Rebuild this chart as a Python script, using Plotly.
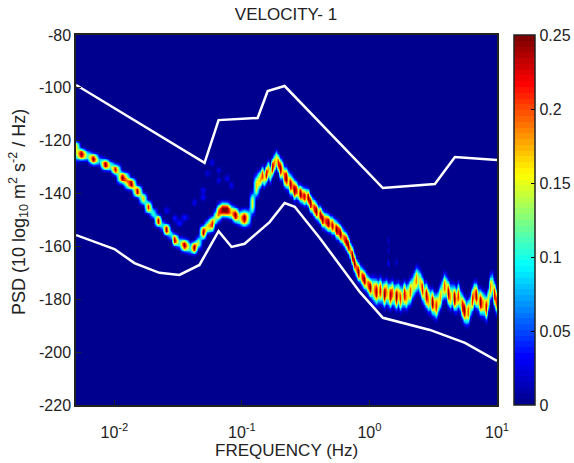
import numpy as np
import plotly.graph_objects as go

# White noise-model curves (log10 frequency, dB)
upper_logf = [-2.30, -1.293, -1.183, -0.877, -0.798, -0.665, 0.105, 0.513, 0.670, 1.0]
upper_db = [-98.9, -128.4, -112.2, -111.4, -101.2, -99.3, -137.9, -136.4, -126.2, -127.3]
lower_logf = [-2.30, -2.0, -1.843, -1.647, -1.49, -1.333, -1.183, -1.081, -0.979, -0.783, -0.665, -0.586, -0.39, -0.076, 0.105, 0.474, 0.749, 1.0]
lower_db = [-155.7, -161.0, -166.3, -170.0, -170.8, -167.0, -154.2, -160.2, -159.0, -150.8, -143.6, -145.0, -156.8, -177.2, -187.0, -191.6, -196.5, -203.3]

# Ridge of the density, low-frequency columns
low_logf = [-2.30, -2.259, -2.212, -2.165, -2.118, -2.071, -2.032, -1.992, -1.937, -1.866, -1.819, -1.772, -1.733, -1.694, -1.655, -1.623, -1.592, -1.560, -1.529, -1.490, -1.451, -1.411, -1.372, -1.348, -1.309, -1.277, -1.238, -1.215, -1.191, -1.160, -1.120, -1.089, -1.058, -1.026, -0.987, -0.956, -0.924, -0.893]
low_db = [-124.0, -125.0, -125.5, -126.8, -127.5, -128.9, -129.5, -130.8, -133.9, -136.2, -139.0, -141.8, -145.0, -147.4, -150.2, -152.0, -153.5, -155.5, -157.4, -158.5, -159.4, -160.5, -160.3, -158.5, -154.5, -152.5, -151.4, -149.0, -147.2, -146.0, -146.1, -147.0, -148.0, -149.0, -149.2, -149.0, -143.6, -137.0]
low_peak = [0.14, 0.25, 0.11, 0.25, 0.08, 0.25, 0.12, 0.23, 0.25, 0.25, 0.24, 0.17, 0.22, 0.11, 0.24, 0.09, 0.25, 0.09, 0.25, 0.11, 0.25, 0.10, 0.25, 0.14, 0.25, 0.16, 0.22, 0.14, 0.20, 0.25, 0.25, 0.17, 0.25, 0.14, 0.25, 0.13, 0.16, 0.17]
low_width = [2.4, 1.5, 1.4, 1.4, 1.3, 1.4, 1.4, 1.4, 1.5, 1.5, 1.5, 1.5, 1.5, 1.4, 1.5, 1.4, 1.5, 1.4, 1.5, 1.5, 1.6, 1.6, 1.6, 1.6, 1.7, 1.7, 1.9, 2.0, 2.2, 1.9, 1.9, 1.9, 1.9, 2.0, 2.1, 2.2, 2.8, 2.8]

# Ridge of the density, high-frequency columns, one every 0.0157 decade from -0.861
high_db = [-134.5, -133.0, -134.0, -132.5, -131.0, -132.5, -130.0, -128.5, -127.0, -128.5, -130.5, -131.0, -133.5, -134.0, -135.0, -136.5, -137.0, -138.5, -138.5, -139.5, -140.0, -140.5, -141.0, -141.0, -141.5, -143.5, -144.5, -145.5, -146.5, -147.5, -148.0, -149.5, -150.0, -150.5, -151.0, -151.5, -152.0, -152.5, -153.5, -154.0, -155.0, -156.0, -157.0, -158.0, -159.5, -161.5, -163.5, -166.0, -168.0, -169.5, -170.5, -171.5, -172.5, -173.5, -174.5, -175.5, -176.0, -176.5, -177.0, -177.0, -176.5, -177.5, -178.0, -177.0, -178.0, -178.5, -177.5, -178.5, -179.0, -178.0, -179.5, -179.0, -178.0, -179.0, -178.0, -177.0, -175.5, -174.0, -172.5, -172.5, -174.0, -176.0, -178.0, -178.5, -180.0, -180.5, -181.0, -182.0, -182.5, -181.0, -179.0, -176.5, -175.0, -175.5, -177.5, -179.0, -178.5, -179.5, -180.0, -178.5, -180.5, -182.5, -184.0, -185.0, -184.5, -182.5, -180.0, -178.0, -178.5, -180.0, -181.0, -181.5, -182.0, -183.0, -180.0, -175.5, -174.5, -178.0, -180.5]
high_peak = [0.18, 0.21, 0.15, 0.23, 0.18, 0.14, 0.24, 0.19, 0.16, 0.22, 0.25, 0.17, 0.21, 0.25, 0.16, 0.24, 0.19, 0.25, 0.22, 0.16, 0.25, 0.20, 0.23, 0.17, 0.25, 0.25, 0.18, 0.22, 0.25, 0.16, 0.24, 0.25, 0.19, 0.22, 0.25, 0.18, 0.23, 0.17, 0.25, 0.22, 0.25, 0.18, 0.21, 0.25, 0.25, 0.19, 0.25, 0.25, 0.20, 0.25, 0.16, 0.22, 0.25, 0.17, 0.21, 0.25, 0.14, 0.19, 0.24, 0.16, 0.22, 0.13, 0.25, 0.19, 0.15, 0.24, 0.20, 0.14, 0.25, 0.17, 0.21, 0.13, 0.23, 0.18, 0.15, 0.20, 0.14, 0.16, 0.19, 0.13, 0.17, 0.22, 0.14, 0.24, 0.19, 0.13, 0.25, 0.17, 0.21, 0.15, 0.18, 0.13, 0.20, 0.15, 0.24, 0.18, 0.13, 0.25, 0.17, 0.21, 0.14, 0.23, 0.25, 0.16, 0.20, 0.13, 0.22, 0.18, 0.24, 0.14, 0.25, 0.19, 0.16, 0.23, 0.15, 0.19, 0.14, 0.23, 0.21]
high_width = [2.3] * 10 + [2.6] * 8 + [2.2] * 28 + [2.4] * 10 + [3.1] * 63

# Faint isolated patches (log10 frequency, dB)
speck_logf = [-2.30, -1.238, -1.199, -1.136, -1.277, -1.199, -1.317, -1.309, -1.372, -1.451, -1.513, -1.592, -1.490, -1.097, 0.144, 0.144, 0.144, 0.199]
speck_db = [-121.5, -128.1, -131.1, -134.1, -132.2, -134.9, -138.6, -141.3, -143.2, -148.9, -149.2, -146.2, -151.1, -136.8, -157.6, -161.3, -166.3, -165.9]
speck_peak = [0.07, 0.03, 0.03, 0.03, 0.025, 0.03, 0.03, 0.035, 0.03, 0.04, 0.04, 0.03, 0.04, 0.03, 0.02, 0.02, 0.035, 0.025]

cbar_ticks = [0, 0.05, 0.1, 0.15, 0.2, 0.25]
cbar_labels = ["0", "0.05", "0.1", "0.15", "0.2", "0.25"]
x_tick_vals = [0.01, 0.1, 1, 10]
x_tick_text = ["10<sup>-2</sup>", "10<sup>-1</sup>", "10<sup>0</sup>", "10<sup>1</sup>"]
y_tick_vals = [-220, -200, -180, -160, -140, -120, -100, -80]
y_tick_text = ["-220", "-200", "-180", "-160", "-140", "-120", "-100", "-80"]

high_logf = -0.861 + 0.0157 * np.arange(len(high_db))
col_logf = np.concatenate([low_logf, high_logf])
col_db = np.concatenate([low_db, high_db])
col_peak = np.concatenate([low_peak, high_peak])
col_width = np.concatenate([low_width, high_width])
rows = np.arange(-220, -79.5, 0.6)

z = col_peak[None, :] * np.exp(-0.5 * np.abs((rows[:, None] - col_db[None, :]) / col_width[None, :]) ** 2.6)
for lf, db, p in zip(speck_logf, speck_db, speck_peak):
    i = int(np.argmin(np.abs(col_logf - lf)))
    z[:, i] += p * np.exp(-0.5 * ((rows - db) / 0.9) ** 2)


def jet_stepped(n=64):
    xs = [0, 8 / 64, 24 / 64, 40 / 64, 56 / 64, 1]
    r = [0, 0, 0, 255, 255, 128]
    g = [0, 0, 255, 255, 0, 0]
    b = [143, 255, 255, 0, 0, 0]
    out = []
    for k in range(n):
        t = k / (n - 1)
        c = f"rgb({np.interp(t, xs, r):.0f},{np.interp(t, xs, g):.0f},{np.interp(t, xs, b):.0f})"
        out += [[k / n, c], [(k + 1) / n, c]]
    return out


FONT = "Liberation Sans"
INK = "#222"
CB_X = (514 - 76) / 421
fig = go.Figure()
fig.add_trace(go.Heatmap(
    x=10 ** col_logf, y=rows, z=z, zmin=0, zmax=0.25, zsmooth="best",
    colorscale=jet_stepped(),
    colorbar=dict(
        thicknessmode="pixels", thickness=21, lenmode="pixels", len=370,
        x=CB_X, xanchor="left", y=0.5, yanchor="middle", xpad=0, ypad=0,
        tickvals=cbar_ticks, ticktext=cbar_labels, ticks="inside", ticklen=4,
        tickcolor="black", outlinecolor=INK, outlinewidth=1.5,
        tickfont=dict(family=FONT, size=16, color=INK),
    ),
    showlegend=False,
))
for xs, ys in ((upper_logf, upper_db), (lower_logf, lower_db)):
    fig.add_trace(go.Scatter(
        x=10 ** np.array(xs), y=ys, mode="lines",
        line=dict(color="white", width=2.5), showlegend=False, hoverinfo="skip",
    ))

axis_common = dict(
    showgrid=False, zeroline=False, showline=True, mirror=True, linecolor=INK,
    linewidth=1.5, ticks="inside", ticklen=5, tickcolor=INK,
    tickfont=dict(family=FONT, size=16, color=INK),
)
shapes = [
    dict(type="line", xref="paper", yref="paper", x0=CB_X, x1=CB_X + 4 / 421,
         y0=v / 0.25, y1=v / 0.25, line=dict(color="black", width=1))
    for v in cbar_ticks[1:-1]
]
annotations = [
    dict(text="FREQUENCY (Hz)", xref="paper", yref="paper", x=(286 - 76) / 421, y=-(450 - 405) / 370,
         xanchor="center", yanchor="middle", showarrow=False,
         font=dict(family=FONT, size=17, color=INK)),
    dict(text="PSD (10 log<sub>10</sub> m<sup>2</sup> s<sup>-2</sup> / Hz)", xref="paper", yref="paper",
         x=(18 - 76) / 421, y=(405 - 212) / 370, textangle=-90, xanchor="center", yanchor="middle",
         showarrow=False, font=dict(family=FONT, size=18, color=INK)),
]
fig.update_layout(
    width=574, height=463, margin=dict(l=76, r=77, t=35, b=58, autoexpand=False),
    paper_bgcolor="white", plot_bgcolor="#00008f", shapes=shapes, annotations=annotations,
    title=dict(text="VELOCITY- 1", x=286 / 574, xanchor="center", y=1 - 14 / 463, yanchor="middle",
               font=dict(family=FONT, size=17, color=INK)),
    xaxis=dict(axis_common, type="log", range=[np.log10(0.005), 1], tickmode="array",
               tickvals=x_tick_vals, ticktext=x_tick_text, ticklabelstandoff=12),
    yaxis=dict(axis_common, range=[-220, -80], tickmode="array",
               tickvals=y_tick_vals, ticktext=y_tick_text),
)
fig.write_html("out.html", config={"displayModeBar": False},
               post_script="document.body.style.margin='0';")
